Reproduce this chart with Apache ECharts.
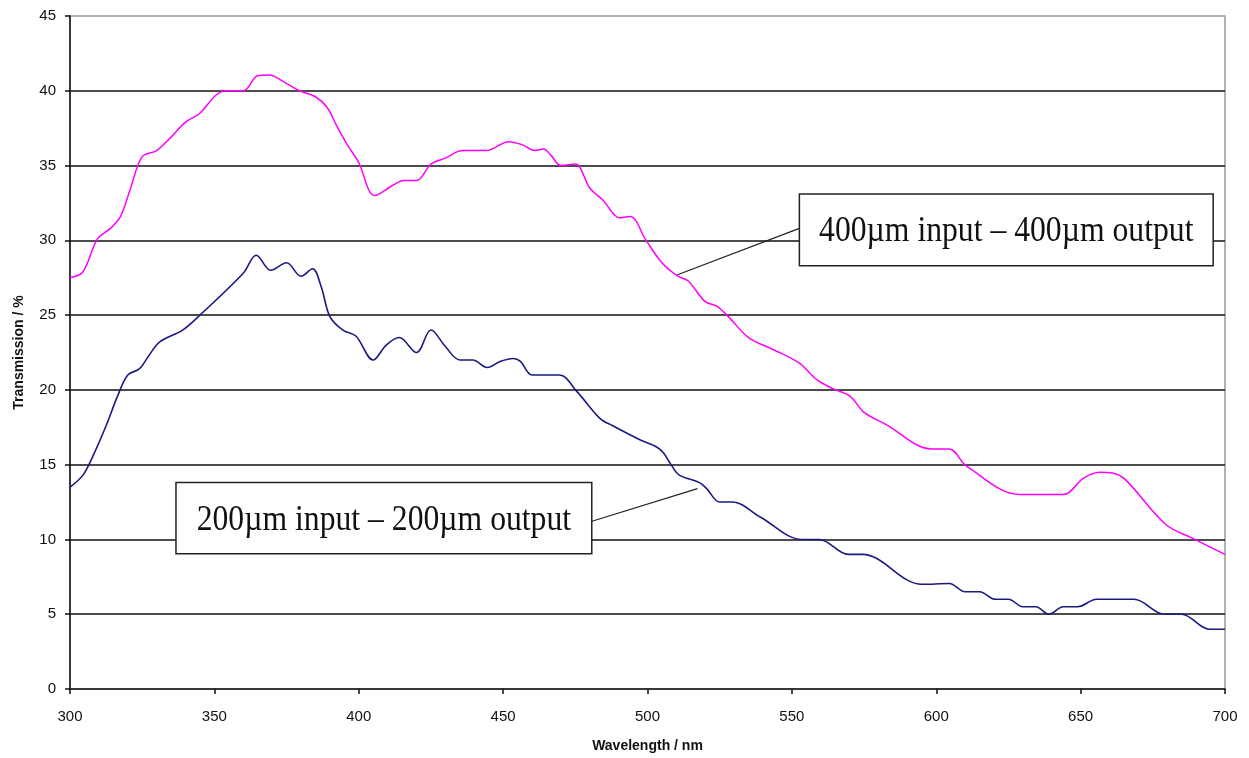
<!DOCTYPE html>
<html>
<head>
<meta charset="utf-8">
<script src="https://cdn.jsdelivr.net/npm/echarts@6/dist/echarts.min.js"></script>
<style>
  html, body { margin: 0; padding: 0; background: #fff; }
  #main { width: 1249px; height: 758px; }
</style>
</head>
<body>
<div id="main"></div>
<script>
// 400um fibre pair (magenta)
var wl400 = [300, 304.5, 309.5, 314, 317.5, 321, 325, 330, 335, 340, 345, 350.5, 354, 360, 365, 369, 374, 379.5,
  385, 389, 392.5, 396, 400, 405.5, 412, 415.5, 420, 425, 430, 436, 444, 452, 456.5, 461, 464, 466.5, 470, 475,
  480, 484.5, 490.5, 494, 499.5, 505, 510.5, 514, 520, 524, 528, 535, 543.5, 552.5, 558.5, 564, 570, 575, 582.5,
  598.5, 604.5, 610.5, 629, 644, 651, 656.5, 661, 665.5, 679.5, 688.5, 700];
var t400 = [27.5, 27.9, 30.1, 30.8, 31.6, 33.5, 35.6, 36.0, 36.9, 37.9, 38.5, 39.7, 40.0, 40.0, 41.0, 41.05, 40.6, 40.0,
  39.6, 38.9, 37.6, 36.4, 35.2, 33.0, 33.7, 34.0, 34.0, 35.1, 35.5, 36.0, 36.0, 36.6, 36.4, 36.0, 36.1, 35.7, 35.0, 35.1,
  33.5, 32.7, 31.5, 31.6, 30.0, 28.5, 27.6, 27.3, 25.9, 25.6, 24.9, 23.5, 22.7, 21.8, 20.7, 20.1, 19.6, 18.5, 17.7,
  16.05, 16.05, 14.9, 13.0, 13.0, 14.1, 14.5, 14.45, 14.0, 11.0, 10.1, 9.0];

// 200um fibre pair (navy)
var wl200 = [300, 304.5, 308, 312.5, 316.5, 320, 324, 327, 331, 339, 345, 360, 364.5, 369.5, 375, 380, 384, 387,
  390, 394.5, 399, 405, 409.5, 414, 420, 425, 430, 435, 439.5, 444.5, 449, 453.5, 456, 460, 469.5, 475.5, 483.5,
  488, 497, 503, 505.5, 508.5, 511, 518, 520.5, 525, 529.5, 539, 553.5, 559.5, 569.5, 574.5, 595, 604.5, 610, 615,
  620.5, 625, 630, 634.5, 639, 644, 649, 655.5, 668.5, 679, 685, 694.5, 700];
var t200 = [13.5, 14.3, 15.6, 17.6, 19.6, 21.0, 21.4, 22.2, 23.2, 24.0, 25.0, 27.8, 29.0, 28.0, 28.5, 27.6, 28.1, 26.9,
  24.9, 24.0, 23.6, 22.0, 23.0, 23.5, 22.5, 24.0, 22.9, 22.0, 22.0, 21.5, 21.9, 22.1, 21.9, 21.0, 21.0, 19.9, 18.1,
  17.6, 16.7, 16.2, 15.8, 14.9, 14.3, 13.8, 13.4, 12.5, 12.5, 11.5, 10.0, 10.0, 9.0, 9.0, 7.0, 7.05, 6.5, 6.5,
  6.0, 6.0, 5.5, 5.5, 5.0, 5.5, 5.5, 6.0, 6.0, 5.0, 5.0, 4.0, 4.0];

var labels = ['400\u00b5m input \u2013 400\u00b5m output', '200\u00b5m input \u2013 200\u00b5m output'];

function pairs(xs, ys) {
  return xs.map(function (x, i) { return [x, ys[i]]; });
}

var chart = echarts.init(document.getElementById('main'), null, { renderer: 'canvas' });
var sans = 'Liberation Sans, Arial, sans-serif';

chart.setOption({
  animation: false,
  backgroundColor: '#fff',
  grid: {
    left: 70, right: 24, top: 16, bottom: 69, containLabel: false, outerBoundsMode: 'none',
    show: true, borderColor: '#999', borderWidth: 1.5
  },
  xAxis: {
    type: 'value', min: 300, max: 700, interval: 50,
    name: 'Wavelength / nm', nameLocation: 'middle', nameGap: 50,
    nameTextStyle: { fontFamily: sans, fontWeight: 'bold', fontSize: 14, color: '#111' },
    axisLine: { lineStyle: { color: '#111', width: 1.5 } },
    axisTick: { show: true, inside: false, length: 5, lineStyle: { color: '#111', width: 1.5 } },
    axisLabel: { fontFamily: sans, fontSize: 15, color: '#111', margin: 20 },
    splitLine: { show: false }
  },
  yAxis: {
    type: 'value', min: 0, max: 45, interval: 5,
    name: 'Transmission / %', nameLocation: 'middle', nameGap: 44,
    nameTextStyle: { fontFamily: sans, fontWeight: 'bold', fontSize: 14, color: '#111' },
    axisLine: { show: true, lineStyle: { color: '#111', width: 1.5 } },
    axisTick: { show: true, inside: false, length: 5, lineStyle: { color: '#111', width: 1.5 } },
    axisLabel: { fontFamily: sans, fontSize: 15, color: '#111', margin: 14 },
    splitLine: { show: true, showMinLine: false, showMaxLine: false, lineStyle: { color: '#111', width: 1.5 } }
  },
  series: [
    {
      name: labels[0], type: 'line', data: pairs(wl400, t400),
      smooth: 0.35, showSymbol: false, symbol: 'none',
      lineStyle: { color: '#ff00ff', width: 1.5 }, z: 3
    },
    {
      name: labels[1], type: 'line', data: pairs(wl200, t200),
      smooth: 0.35, showSymbol: false, symbol: 'none',
      lineStyle: { color: '#1a1a80', width: 1.6 }, z: 3
    }
  ]
});

// callout boxes, placed in data coordinates
function px(x, y) { return chart.convertToPixel({ gridIndex: 0 }, [x, y]); }

function callout(text, box, from, to) {
  var a = px(box[0], box[1]), b = px(box[2], box[3]);
  var p1 = px(from[0], from[1]), p2 = px(to[0], to[1]);
  return [
    { type: 'line', z: 20, shape: { x1: p1[0], y1: p1[1], x2: p2[0], y2: p2[1] },
      style: { stroke: '#222', lineWidth: 1.2 } },
    { type: 'rect', z: 21, shape: { x: a[0], y: a[1], width: b[0] - a[0], height: b[1] - a[1] },
      style: { fill: '#fff', stroke: '#222', lineWidth: 1.5 } },
    { type: 'text', z: 22, x: (a[0] + b[0]) / 2, y: (a[1] + b[1]) / 2 + 2, scaleX: 0.88,
      style: { text: text, fontFamily: 'Liberation Serif, Times New Roman, serif', fontSize: 36,
        fill: '#111', align: 'center', verticalAlign: 'middle' } }
  ];
}

chart.setOption({
  graphic: [].concat(
    callout(labels[0], [552.6, 33.1, 695.9, 28.3], [510.4, 27.7], [552.6, 30.8]),
    callout(labels[1], [336.7, 13.8, 480.7, 9.05], [480.5, 11.2], [517.3, 13.4])
  )
});
</script>
</body>
</html>
